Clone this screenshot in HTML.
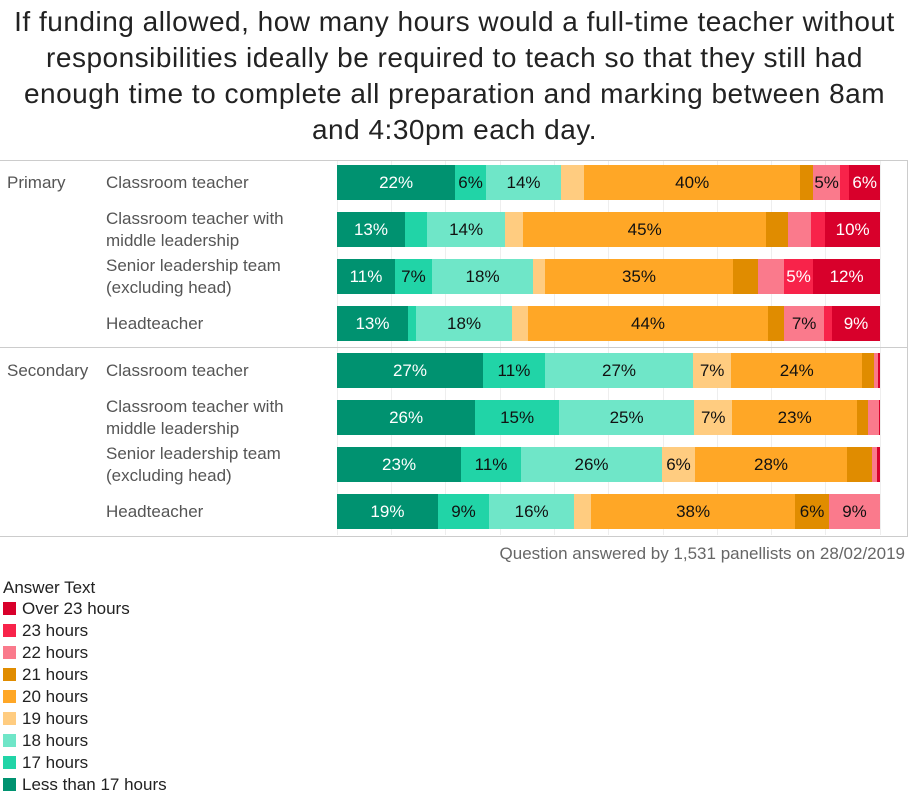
<!DOCTYPE html>
<html><head><meta charset="utf-8"><style>
body{margin:0;width:909px;height:797px;background:#fff;font-family:"Liberation Sans",sans-serif;position:relative;overflow:hidden;color:#333}
.title{position:absolute;left:0;top:4px;width:909px;text-align:center;font-size:28px;letter-spacing:0.5px;line-height:36px;color:#222}
.box{position:absolute;left:0;top:160px;width:907px;height:375px;border:1px solid #ccc;border-left:none}
.sep{position:absolute;left:0;top:347px;width:908px;border-top:1px solid #ccc}
.grid{position:absolute;top:161px;height:374px;border-left:1px solid #eee}
.bar{position:absolute;left:337px;width:543px;height:35px;display:flex}
.bar div{height:35px;line-height:35px;text-align:center;font-size:17px;color:#111;overflow:hidden;white-space:nowrap}
.w{color:#fff!important}
.lab{position:absolute;font-size:17px;color:#555;line-height:22px}
.leg{position:absolute;left:3px;font-size:17px;color:#222;line-height:22px}
.leg span{display:inline-block;width:13px;height:13px;margin-right:6px;vertical-align:-1px}
</style></head><body>
<div class="title">If funding allowed, how many hours would a full-time teacher without<br>responsibilities ideally be required to teach so that they still had<br>enough time to complete all preparation and marking between 8am<br>and 4:30pm each day.</div>
<div class="box"></div>
<div class="grid" style="left:337px"></div><div class="grid" style="left:391px"></div><div class="grid" style="left:445px"></div><div class="grid" style="left:500px"></div><div class="grid" style="left:554px"></div><div class="grid" style="left:608px"></div><div class="grid" style="left:663px"></div><div class="grid" style="left:717px"></div><div class="grid" style="left:771px"></div><div class="grid" style="left:825px"></div><div class="grid" style="left:880px"></div>
<div class="sep"></div>
<div class="lab" style="left:7px;top:172px">Primary</div>
<div class="lab" style="left:7px;top:360px">Secondary</div>
<div class="lab" style="left:106px;top:172px">Classroom teacher</div>
<div class="lab" style="left:106px;top:208px">Classroom teacher with<br>middle leadership</div>
<div class="lab" style="left:106px;top:255px">Senior leadership team<br>(excluding head)</div>
<div class="lab" style="left:106px;top:313px">Headteacher</div>
<div class="lab" style="left:106px;top:360px">Classroom teacher</div>
<div class="lab" style="left:106px;top:396px">Classroom teacher with<br>middle leadership</div>
<div class="lab" style="left:106px;top:443px">Senior leadership team<br>(excluding head)</div>
<div class="lab" style="left:106px;top:501px">Headteacher</div>

<div class="bar" style="top:165px"><div class="w" style="flex:320;background:#009270">22%</div><div style="flex:83;background:#21d4a7">6%</div><div style="flex:204;background:#6fe6c8">14%</div><div style="flex:62;background:#ffcc80"></div><div style="flex:585;background:#ffa726">40%</div><div style="flex:35;background:#e08c00"></div><div style="flex:73;background:#fa7a8c">5%</div><div style="flex:25;background:#f8234a"></div><div class="w" style="flex:83;background:#d8002b">6%</div></div>
<div class="bar" style="top:212px"><div class="w" style="flex:184;background:#009270">13%</div><div style="flex:60;background:#21d4a7"></div><div style="flex:211;background:#6fe6c8">14%</div><div style="flex:49;background:#ffcc80"></div><div style="flex:658;background:#ffa726">45%</div><div style="flex:59;background:#e08c00"></div><div style="flex:63;background:#fa7a8c"></div><div style="flex:38;background:#f8234a"></div><div class="w" style="flex:148;background:#d8002b">10%</div></div>
<div class="bar" style="top:259px"><div class="w" style="flex:157;background:#009270">11%</div><div style="flex:100;background:#21d4a7">7%</div><div style="flex:274;background:#6fe6c8">18%</div><div style="flex:32;background:#ffcc80"></div><div style="flex:509;background:#ffa726">35%</div><div style="flex:68;background:#e08c00"></div><div style="flex:70;background:#fa7a8c"></div><div class="w" style="flex:79;background:#f8234a">5%</div><div class="w" style="flex:181;background:#d8002b">12%</div></div>
<div class="bar" style="top:306px"><div class="w" style="flex:192;background:#009270">13%</div><div style="flex:22;background:#21d4a7"></div><div style="flex:260;background:#6fe6c8">18%</div><div style="flex:43;background:#ffcc80"></div><div style="flex:650;background:#ffa726">44%</div><div style="flex:43;background:#e08c00"></div><div style="flex:109;background:#fa7a8c">7%</div><div style="flex:21;background:#f8234a"></div><div class="w" style="flex:130;background:#d8002b">9%</div></div>

<div class="bar" style="top:353px"><div class="w" style="flex:395;background:#009270">27%</div><div style="flex:168;background:#21d4a7">11%</div><div style="flex:401;background:#6fe6c8">27%</div><div style="flex:103;background:#ffcc80">7%</div><div style="flex:355;background:#ffa726">24%</div><div style="flex:32;background:#e08c00"></div><div style="flex:11;background:#fa7a8c"></div><div style="flex:5;background:#d8002b"></div></div>
<div class="bar" style="top:400px"><div class="w" style="flex:374;background:#009270">26%</div><div style="flex:227;background:#21d4a7">15%</div><div style="flex:366;background:#6fe6c8">25%</div><div style="flex:103;background:#ffcc80">7%</div><div style="flex:338;background:#ffa726">23%</div><div style="flex:30;background:#e08c00"></div><div style="flex:29;background:#fa7a8c"></div><div style="flex:3;background:#d8002b"></div></div>
<div class="bar" style="top:447px"><div class="w" style="flex:336;background:#009270">23%</div><div style="flex:162;background:#21d4a7">11%</div><div style="flex:382;background:#6fe6c8">26%</div><div style="flex:89;background:#ffcc80">6%</div><div style="flex:412;background:#ffa726">28%</div><div style="flex:67;background:#e08c00"></div><div style="flex:13;background:#fa7a8c"></div><div style="flex:9;background:#d8002b"></div></div>
<div class="bar" style="top:494px"><div class="w" style="flex:273;background:#009270">19%</div><div style="flex:139;background:#21d4a7">9%</div><div style="flex:230;background:#6fe6c8">16%</div><div style="flex:46;background:#ffcc80"></div><div style="flex:552;background:#ffa726">38%</div><div style="flex:92;background:#e08c00">6%</div><div style="flex:138;background:#fa7a8c">9%</div></div>

<div class="lab" style="right:4px;top:543px;color:#666">Question answered by 1,531 panellists on 28/02/2019</div>
<div class="leg" style="top:577px">Answer Text</div>
<div class="leg" style="top:598px"><span style="background:#d8002b"></span>Over 23 hours</div>
<div class="leg" style="top:620px"><span style="background:#f8234a"></span>23 hours</div>
<div class="leg" style="top:642px"><span style="background:#fa7a8c"></span>22 hours</div>
<div class="leg" style="top:664px"><span style="background:#e08c00"></span>21 hours</div>
<div class="leg" style="top:686px"><span style="background:#ffa726"></span>20 hours</div>
<div class="leg" style="top:708px"><span style="background:#ffcc80"></span>19 hours</div>
<div class="leg" style="top:730px"><span style="background:#6fe6c8"></span>18 hours</div>
<div class="leg" style="top:752px"><span style="background:#21d4a7"></span>17 hours</div>
<div class="leg" style="top:774px"><span style="background:#009270"></span>Less than 17 hours</div>
</body></html>
